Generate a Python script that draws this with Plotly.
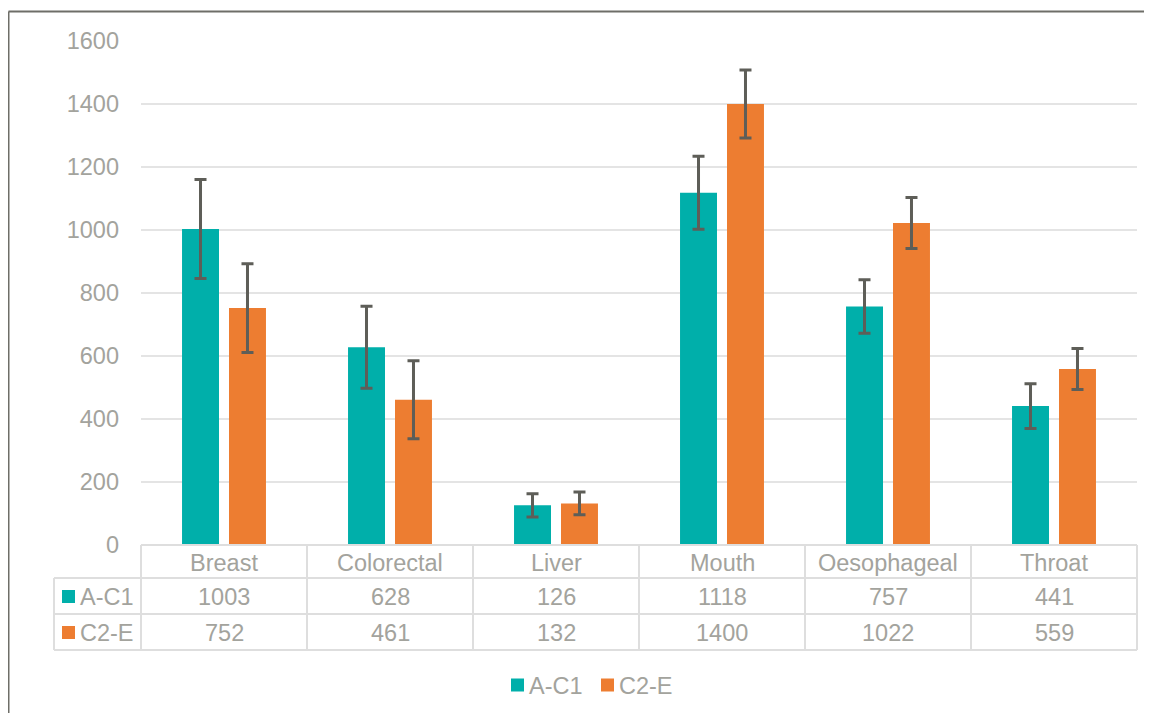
import plotly.graph_objects as go

categories = ["Breast", "Colorectal", "Liver", "Mouth", "Oesophageal", "Throat"]
series_names = ["A-C1", "C2-E"]
a_c1 = [1003, 628, 126, 1118, 757, 441]
c2_e = [752, 461, 132, 1400, 1022, 559]
a_c1_err = [157, 130, 37, 116, 85, 71]
c2_e_err = [141, 124, 36, 108, 81, 65]
y_ticks = [0, 200, 400, 600, 800, 1000, 1200, 1400, 1600]

colors = ["#00AFAA", "#ED7D31"]
txt = "#A3A39D"
grid = "#E4E4E4"
err_c = "#5E5E58"
FONT = "Liberation Sans, Arial, sans-serif"
FS = 23.5

OFF = 8  # page body margin
W, H = 1152 - OFF, 713 - OFF
L, R, T, B = 141 - OFF, 1137 - OFF, 41 - OFF, 545 - OFF

def px(x):
    return (x - OFF - L) / (R - L)

def py(y):
    return (B - (y - OFF)) / (B - T)

fig = go.Figure()
for name, vals, errs, c in zip(series_names, [a_c1, c2_e], [a_c1_err, c2_e_err], colors):
    fig.add_trace(go.Bar(
        x=categories, y=vals, name=name,
        marker=dict(color=c, line=dict(width=0)),
        error_y=dict(type="data", array=errs, visible=True, color=err_c, thickness=3, width=6),
        showlegend=False,
    ))

shapes = []
annotations = []
line_style = dict(color="#DEDEDE", width=2)

# outer chart border (cropped at right/bottom)
shapes.append(dict(type="line", xref="paper", yref="paper", x0=px(8.5), x1=px(1170), y0=py(11.5), y1=py(11.5),
                   line=dict(color="#6E6E68", width=2)))
shapes.append(dict(type="line", xref="paper", yref="paper", x0=px(8.5), x1=px(8.5), y0=py(11.5), y1=py(730),
                   line=dict(color="#6E6E68", width=2)))

# data table
row_y = [545, 578, 614, 650]
n = len(categories)
tl, tr = 141, 1137
col_x = [tl + i * (tr - tl) / n for i in range(n + 1)]
left_x = 54
shapes.append(dict(type="line", xref="paper", yref="paper", x0=px(tl), x1=px(tr), y0=py(row_y[0]), y1=py(row_y[0]), line=line_style))
for yy in row_y[1:]:
    shapes.append(dict(type="line", xref="paper", yref="paper", x0=px(left_x), x1=px(tr), y0=py(yy), y1=py(yy), line=line_style))
for xx in col_x:
    shapes.append(dict(type="line", xref="paper", yref="paper", x0=px(xx), x1=px(xx), y0=py(row_y[0]), y1=py(row_y[3]), line=line_style))
shapes.append(dict(type="line", xref="paper", yref="paper", x0=px(left_x), x1=px(left_x), y0=py(row_y[1]), y1=py(row_y[3]), line=line_style))

for i, cat in enumerate(categories):
    xc = (col_x[i] + col_x[i + 1]) / 2
    annotations.append(dict(xref="paper", yref="paper", x=px(xc), y=py((row_y[0] + row_y[1]) / 2 + 1),
                            text=cat, showarrow=False, xanchor="center", yanchor="middle",
                            font=dict(family=FONT, size=FS, color=txt)))
for r, (name, vals, c) in enumerate(zip(series_names, [a_c1, c2_e], colors)):
    yc = (row_y[r + 1] + row_y[r + 2]) / 2 + 1
    for i, v in enumerate(vals):
        xc = (col_x[i] + col_x[i + 1]) / 2
        annotations.append(dict(xref="paper", yref="paper", x=px(xc), y=py(yc),
                                text=str(v), showarrow=False, xanchor="center", yanchor="middle",
                                font=dict(family=FONT, size=FS, color=txt)))
    shapes.append(dict(type="rect", xref="paper", yref="paper", x0=px(62), x1=px(75), y0=py(yc - 7), y1=py(yc + 6),
                       fillcolor=c, line=dict(width=0)))
    annotations.append(dict(xref="paper", yref="paper", x=px(78), y=py(yc),
                            text=name, showarrow=False, xanchor="left", yanchor="middle",
                            font=dict(family=FONT, size=FS, color=txt)))

leg_y = 685
leg_x = [511, 601]
for name, c, lx in zip(series_names, colors, leg_x):
    shapes.append(dict(type="rect", xref="paper", yref="paper", x0=px(lx), x1=px(lx + 13), y0=py(leg_y + 6.5), y1=py(leg_y - 6.5),
                       fillcolor=c, line=dict(width=0)))
    annotations.append(dict(xref="paper", yref="paper", x=px(lx + 16), y=py(leg_y + 1),
                            text=name, showarrow=False, xanchor="left", yanchor="middle",
                            font=dict(family=FONT, size=FS, color=txt)))

fig.update_layout(
    width=W, height=H,
    margin=dict(l=L, r=W - R, t=T, b=H - B, pad=0),
    paper_bgcolor="white", plot_bgcolor="white",
    barmode="group", bargap=0.434, bargroupgap=0.213,
    font=dict(family=FONT, size=FS, color=txt),
    xaxis=dict(showticklabels=False, showgrid=False, zeroline=False, showline=False, ticks=""),
    yaxis=dict(range=[0, 1600], tickvals=y_ticks, showgrid=True, gridcolor=grid, gridwidth=2,
               zeroline=False, showline=False, ticks="", ticklabelstandoff=21,
               tickfont=dict(family=FONT, size=FS, color=txt)),
    shapes=shapes, annotations=annotations,
)

fig.write_html("out.html")
